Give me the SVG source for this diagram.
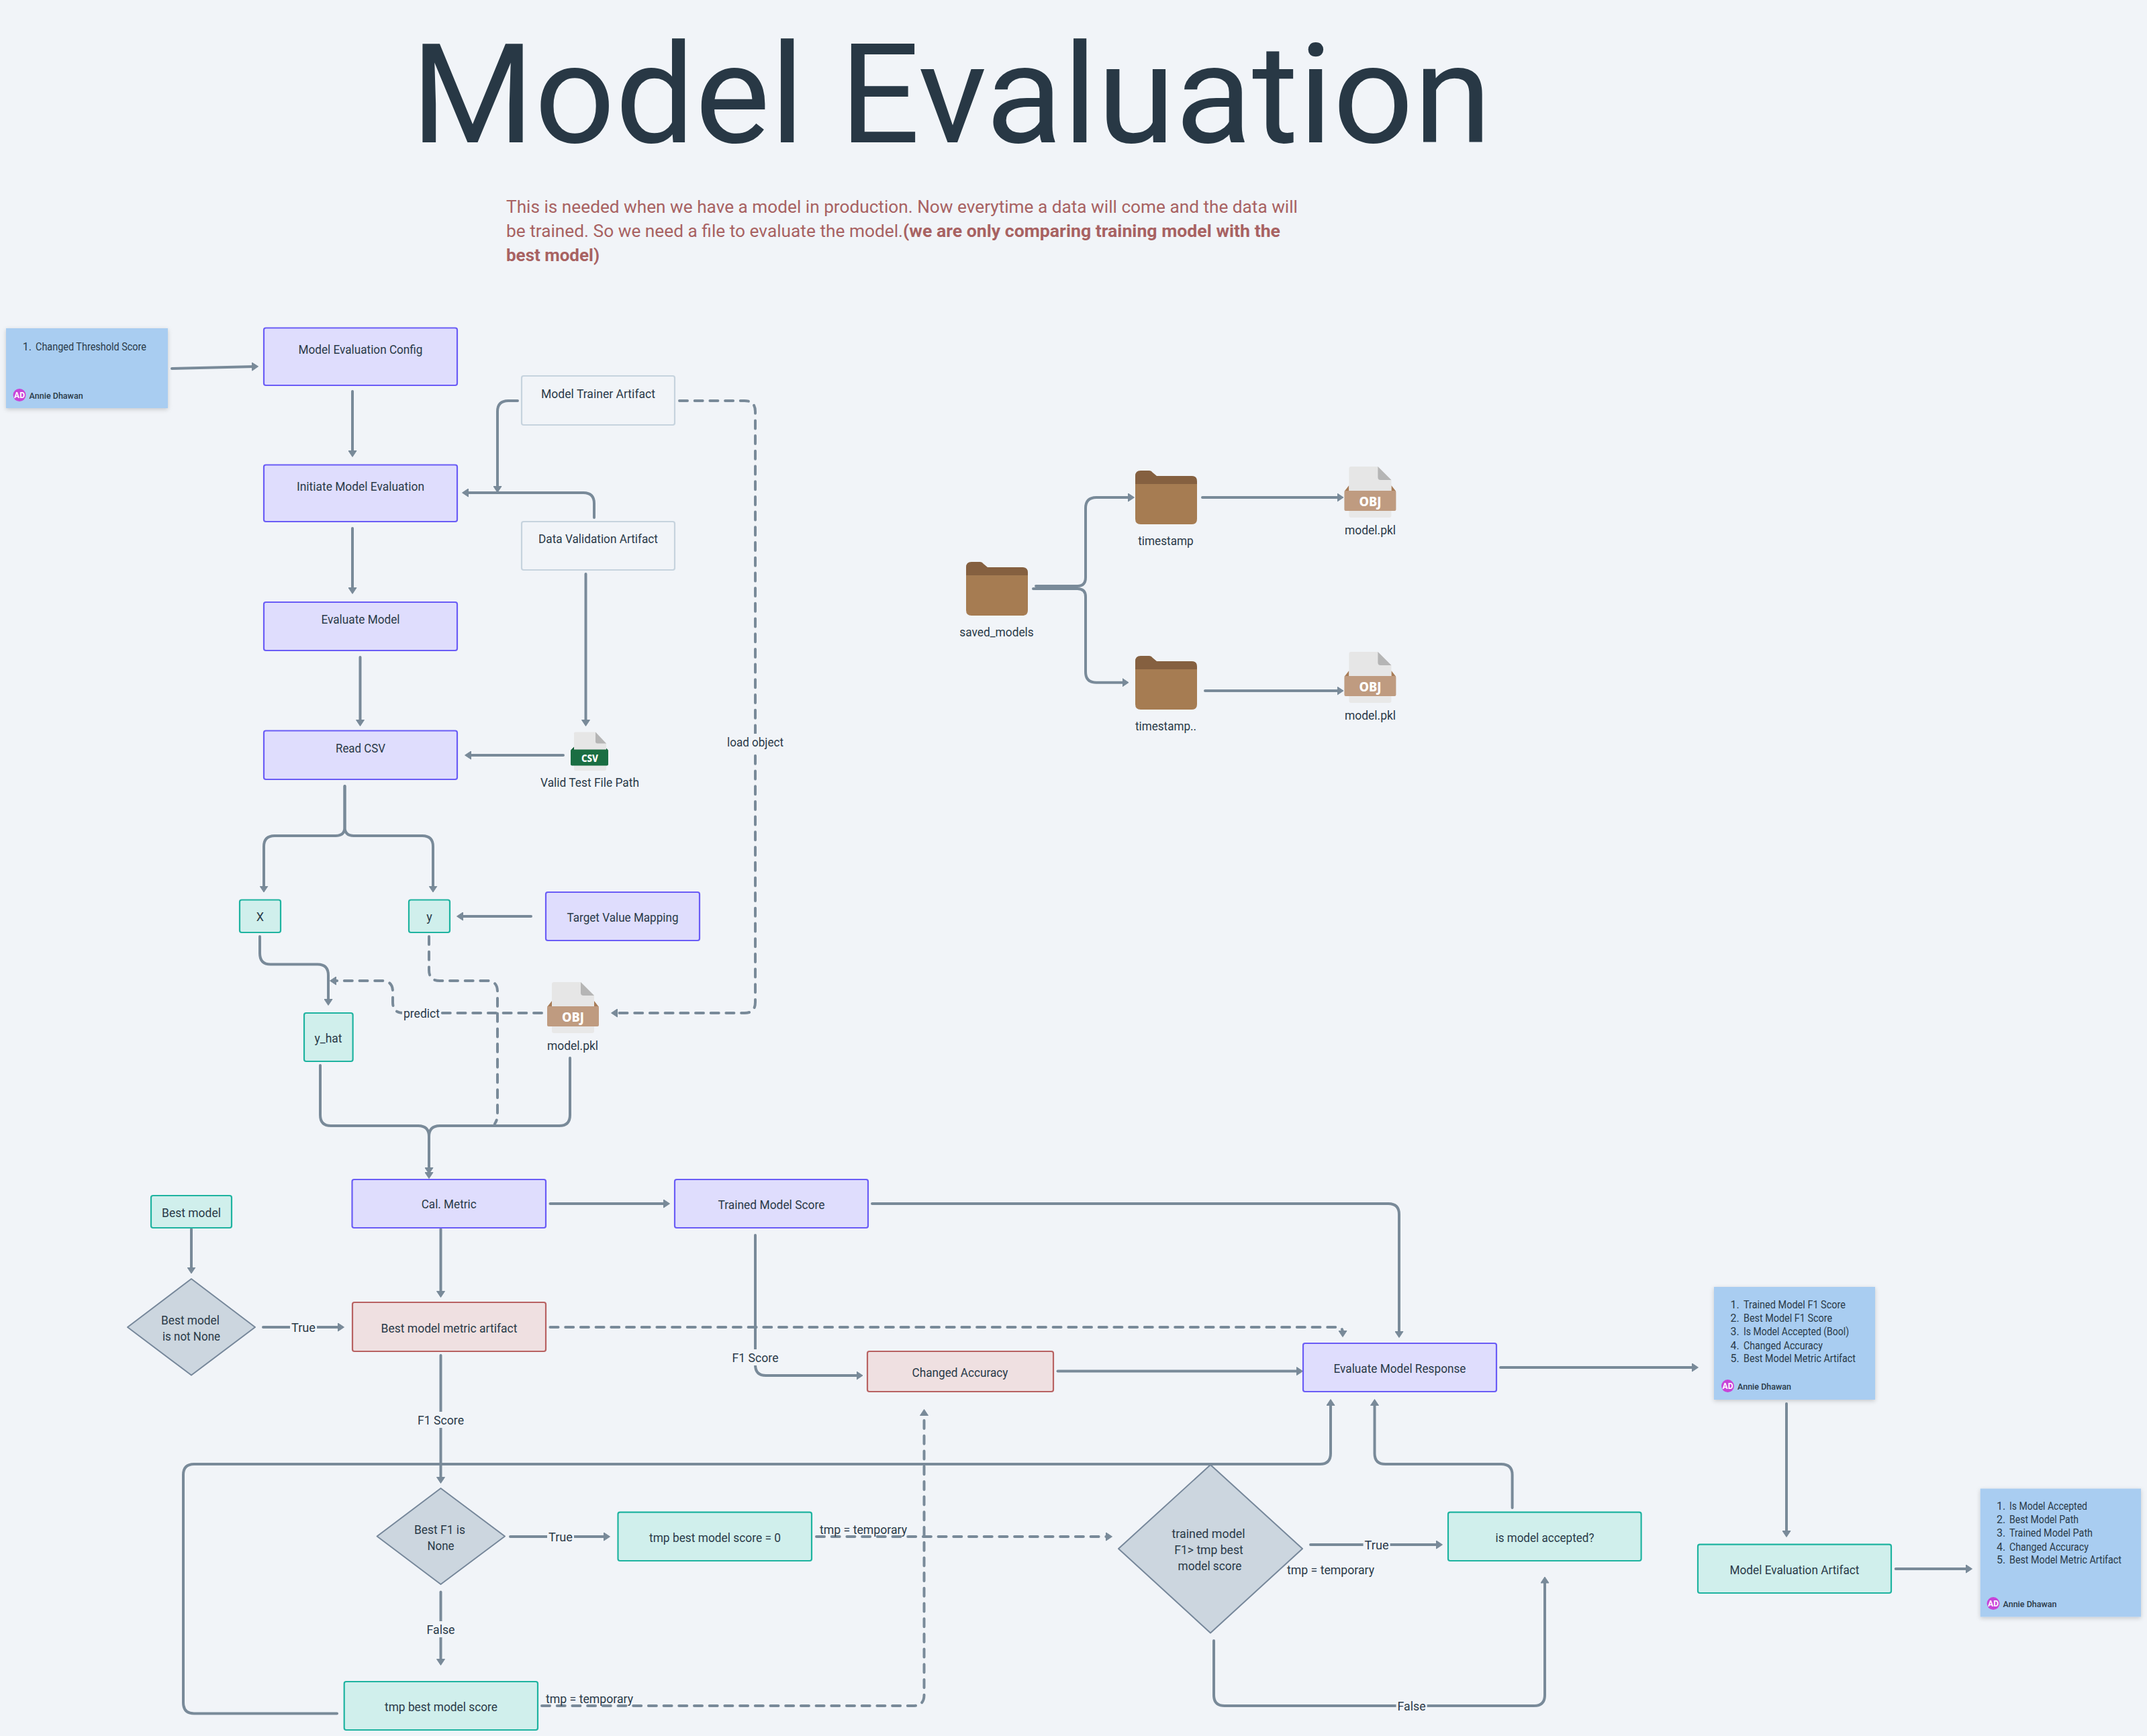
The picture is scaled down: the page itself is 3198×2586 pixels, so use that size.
<svg xmlns="http://www.w3.org/2000/svg" width="3198" height="2586" viewBox="0 0 3198 2586">
<style>
text{font-family:"Roboto","Liberation Sans",sans-serif;fill:#2a3a48;font-size:18px;dominant-baseline:central;text-anchor:middle}
.c path{fill:none;stroke:#798a99;stroke-width:4;stroke-linecap:round;marker-end:url(#ah)}
.c path.n{marker-end:none}
.c path.d{stroke-dasharray:12 10.7}
.lb{fill:#f1f4f8}
.l{font-size:16px;text-anchor:start}
.desc{font-size:26px;fill:#a86262;text-anchor:start;dominant-baseline:alphabetic}
.b{font-weight:700}
.a{fill:#dfddfd;stroke:#6a5cf6;stroke-width:2.2}
.t{fill:#d0efec;stroke:#1eb3a0;stroke-width:2.2}
.r{fill:#efe0e1;stroke:#b86262;stroke-width:2.2}
.g{fill:#f1f4f8;stroke:#c6d3de;stroke-width:2.2}
.dm{fill:#ccd6df;stroke:#76879a;stroke-width:2;stroke-linejoin:round}
.s{fill:#a9cdf1;filter:url(#sh)}
.av{fill:#c844d8}
.avt{font-size:12px;font-weight:700;fill:#fff}
.au{font-size:13.5px;font-weight:500;text-anchor:start}
.ic{font-weight:800;fill:#fff;font-family:"Noto Sans","Roboto",sans-serif}
</style>
<defs>
<marker id="ah" viewBox="0 0 10 13" refX="4" refY="6.5" markerUnits="userSpaceOnUse" markerWidth="10" markerHeight="13" orient="auto"><path d="M0.5 0.5L9.5 6.5L0.5 12.5Z" fill="#798a99" stroke="#798a99" stroke-linejoin="round"/></marker>
<filter id="sh" x="-10%" y="-10%" width="120%" height="120%"><feDropShadow dx="0" dy="2" stdDeviation="3" flood-color="#000" flood-opacity="0.18"/></filter>
<g id="folder"><path d="M0 8Q0 0 8 0H21Q24 0 26 3L32 8H84Q92 8 92 16V20H0Z" fill="#856040"/><path d="M0 20H92V72Q92 80 84 80H8Q0 80 0 72Z" fill="#a67c52"/></g>
<g id="obj"><path d="M0 37L7 28V37ZM77 37L70 28V37Z" fill="#a87c57"/><path d="M7 3Q7 0 10 0H50L70 20V37H7Z" fill="#e6e6e6"/><path d="M50 0L70 20H54Q50 20 50 16Z" fill="#b5b5b5"/><rect x="7" y="60" width="63" height="16" rx="3" fill="#e8e8e8"/><rect x="0" y="36" width="77" height="30" rx="2" fill="#bf9b80"/></g>
<g id="csv"><path d="M0 27L5 22V27ZM56 27L51 22V27Z" fill="#0f5a33"/><path d="M5 2Q5 0 7 0H37L53 17V27H5Z" fill="#e6e6e6"/><path d="M37 0L53 17H40Q37 17 37 14Z" fill="#b5b5b5"/><rect x="5" y="44" width="48" height="13.5" rx="2" fill="#e8e8e8"/><rect x="0" y="26" width="56" height="24" rx="2" fill="#1a6e42"/></g>
</defs>
<rect width="3198" height="2586" fill="#f1f4f8"/>
<g id="title-block">
<text x="612" y="212" style="font-size:206px;text-anchor:start;dominant-baseline:alphabetic;fill:#283845" textLength="1610" lengthAdjust="spacingAndGlyphs">Model Evaluation</text>
<text class="desc" x="754" y="317" textLength="1179" lengthAdjust="spacingAndGlyphs">This is needed when we have a model in production. Now everytime a data will come and the data will</text>
<text class="desc" x="754" y="353" textLength="591" lengthAdjust="spacingAndGlyphs">be trained. So we need a file to evaluate the model.</text>
<text class="desc b" x="1345" y="353" textLength="562" lengthAdjust="spacingAndGlyphs">(we are only comparing training model with the</text>
<text class="desc b" x="754" y="389" textLength="139" lengthAdjust="spacingAndGlyphs">best model)</text>
</g>
<g id="connectors" class="c">
<path d="M256 549L379 546"/>
<path d="M525 583V675"/>
<path d="M525 787V879"/>
<path d="M536.5 979V1076"/>
<path d="M771 597H757Q741 597 741 613V728"/>
<path d="M885 771V750Q885 734 869 734H694"/>
<path d="M872.5 855V1076"/>
<path d="M839 1125H698"/>
<path d="M513.5 1171V1232Q513.5 1245 500 1245H409Q393 1245 393 1261V1323.5"/>
<path d="M513.5 1171V1232Q513.5 1245 527 1245H629Q645 1245 645 1261V1323.5"/>
<path class="d" d="M1012 597H1109Q1125 597 1125 613V1493Q1125 1509 1109 1509H916"/>
<path d="M791 1365H686"/>
<path d="M387 1395V1420Q387 1436.6 403 1436.6H473Q489 1436.6 489 1453V1492"/>
<path class="d n" d="M639 1395V1445Q639 1461 655 1461H725Q741 1461 741 1477V1660Q741 1668 737 1674"/>
<path class="d" d="M807 1509H601Q585 1509 585 1493V1477Q585 1461 569 1461H497"/>
<path d="M477 1587V1661Q477 1677 493 1677H623Q639 1677 639 1693V1750"/>
<path d="M849 1576V1661Q849 1677 833 1677H655Q639 1677 639 1693V1743"/>
<path d="M819.5 1793H992"/>
<path d="M656.5 1831V1927"/>
<path d="M285 1831V1891.5"/>
<path d="M392 1977H507"/>
<path class="d" d="M819.5 1977H1992Q2000 1977 2000 1985V1986"/>
<path d="M1125 1840V2033Q1125 2049 1141 2049H1279.5"/>
<path d="M1299 1793H2068Q2084 1793 2084 1809V1987"/>
<path d="M1575.5 2042.6H1935"/>
<path d="M2235 2037H2524"/>
<path d="M656.5 2019V2204"/>
<path d="M760 2289H903"/>
<path d="M656.5 2371.5V2475"/>
<path d="M502 2552.5H289Q273 2552.5 273 2536V2197Q273 2181 289 2181H1966Q1982 2181 1982 2165V2090"/>
<path class="d" d="M1216 2289H1651"/>
<path class="d" d="M807 2541H1360Q1376.5 2541 1376.5 2525V2105"/>
<path d="M1952 2301H2143"/>
<path d="M1808 2444V2525Q1808 2541 1824 2541H2285Q2301 2541 2301 2525V2354.5"/>
<path d="M2252.6 2246V2197Q2252.6 2181 2236 2181H2063.5Q2047.5 2181 2047.5 2165V2090"/>
<path d="M2661 2091V2284"/>
<path d="M2823.7 2337H2932"/>
<path d="M1543 873H1605Q1617 873 1617 860V757Q1617 741 1633 741H1684"/>
<path d="M1539 877H1605Q1617 877 1617 889V1001Q1617 1016.7 1633 1016.7H1675.5"/>
<path d="M1791 741H1995.5"/>
<path d="M1795 1029H1995.5"/>
<rect class="lb" x="1081" y="1093" width="88" height="24"/><text x="1125" y="1105" textLength="84" lengthAdjust="spacingAndGlyphs">load object</text>
<rect class="lb" x="599" y="1497" width="58" height="24"/><text x="628" y="1509" textLength="54" lengthAdjust="spacingAndGlyphs">predict</text>
<rect class="lb" x="432" y="1965" width="40" height="24"/><text x="452" y="1977" textLength="36" lengthAdjust="spacingAndGlyphs">True</text>
<rect class="lb" x="620" y="2103" width="73" height="24"/><text x="656.5" y="2115" textLength="69" lengthAdjust="spacingAndGlyphs">F1 Score</text>
<rect class="lb" x="1088.5" y="2010" width="73" height="24"/><text x="1125" y="2022" textLength="69" lengthAdjust="spacingAndGlyphs">F1 Score</text>
<rect class="lb" x="815" y="2277" width="40" height="24"/><text x="835" y="2289" textLength="36" lengthAdjust="spacingAndGlyphs">True</text>
<rect class="lb" x="633.5" y="2415" width="46" height="24"/><text x="656.5" y="2427" textLength="42" lengthAdjust="spacingAndGlyphs">False</text>
<rect class="lb" x="2030.6" y="2289" width="40" height="24"/><text x="2050.6" y="2301" textLength="36" lengthAdjust="spacingAndGlyphs">True</text>
<rect class="lb" x="2079.6" y="2529" width="46" height="24"/><text x="2102.6" y="2541" textLength="42" lengthAdjust="spacingAndGlyphs">False</text>
<text style="text-anchor:start" x="1221" y="2278" textLength="130" lengthAdjust="spacingAndGlyphs">tmp = temporary</text>
<text style="text-anchor:start" x="813" y="2530" textLength="130" lengthAdjust="spacingAndGlyphs">tmp = temporary</text>
<text style="text-anchor:start" x="1917" y="2338" textLength="130" lengthAdjust="spacingAndGlyphs">tmp = temporary</text>
</g>
<g id="sticky-threshold"><rect class="s" x="9" y="489" width="241" height="119"/>
<text class="l" x="33.7" y="516">1.</text><text class="l" x="53" y="516" textLength="165" lengthAdjust="spacingAndGlyphs">Changed Threshold Score</text>
<circle class="av" cx="29" cy="588.5" r="9.5"/><text class="avt" x="29" y="588.5">AD</text><text class="au" x="43.6" y="588.5" textLength="80" lengthAdjust="spacingAndGlyphs">Annie Dhawan</text></g>
<g id="model-evaluation-config"><rect class="a" x="393" y="488.5" width="288" height="85.5" rx="3"/><text x="537" y="520" textLength="185" lengthAdjust="spacingAndGlyphs">Model Evaluation Config</text></g>
<g id="initiate-model-evaluation"><rect class="a" x="393" y="692.5" width="288" height="84.5" rx="3"/><text x="537" y="724" textLength="190" lengthAdjust="spacingAndGlyphs">Initiate Model Evaluation</text></g>
<g id="evaluate-model"><rect class="a" x="393" y="897" width="288" height="72" rx="3"/><text x="537" y="922" textLength="117" lengthAdjust="spacingAndGlyphs">Evaluate Model</text></g>
<g id="read-csv"><rect class="a" x="393" y="1088.5" width="288" height="72.5" rx="3"/><text x="537" y="1114" textLength="74" lengthAdjust="spacingAndGlyphs">Read CSV</text></g>
<g id="model-trainer-artifact"><rect class="g" x="777" y="560" width="228" height="73" rx="3"/><text x="891" y="586" textLength="170" lengthAdjust="spacingAndGlyphs">Model Trainer Artifact</text></g>
<g id="data-validation-artifact"><rect class="g" x="777" y="777" width="228" height="72" rx="3"/><text x="891" y="802" textLength="178" lengthAdjust="spacingAndGlyphs">Data Validation Artifact</text></g>
<g id="valid-test-file"><use href="#csv" x="850" y="1090.5"/><text class="ic" x="878.5" y="1128.5" style="font-size:15px" textLength="25" lengthAdjust="spacingAndGlyphs">CSV</text><text x="878.5" y="1165" textLength="147" lengthAdjust="spacingAndGlyphs">Valid Test File Path</text></g>
<g id="x-node"><rect class="t" x="357" y="1340.5" width="61" height="48.5" rx="3"/><text x="387.5" y="1365">X</text></g>
<g id="y-node"><rect class="t" x="609" y="1340.5" width="61" height="48.5" rx="3"/><text x="639.5" y="1365">y</text></g>
<g id="target-value-mapping"><rect class="a" x="813" y="1329" width="229" height="72" rx="3"/><text x="927.5" y="1366" textLength="166" lengthAdjust="spacingAndGlyphs">Target Value Mapping</text></g>
<g id="y-hat"><rect class="t" x="453" y="1509" width="72.6" height="72" rx="3"/><text x="489" y="1546" textLength="41" lengthAdjust="spacingAndGlyphs">y_hat</text></g>
<g id="model-pkl"><use href="#obj" x="815" y="1463"/><text class="ic" x="853.5" y="1514.5" style="font-size:20px" textLength="33" lengthAdjust="spacingAndGlyphs">OBJ</text><text x="853" y="1557.5" textLength="76" lengthAdjust="spacingAndGlyphs">model.pkl</text></g>
<g id="saved-models"><use href="#folder" x="1439" y="837"/><text x="1484.5" y="941.7" textLength="110.6" lengthAdjust="spacingAndGlyphs">saved_models</text></g>
<g id="timestamp-1"><use href="#folder" x="1691" y="701"/><text x="1736.5" y="805.7" textLength="82.6" lengthAdjust="spacingAndGlyphs">timestamp</text></g>
<g id="timestamp-2"><use href="#folder" x="1691" y="977"/><text x="1736.5" y="1081.7" textLength="91" lengthAdjust="spacingAndGlyphs">timestamp..</text></g>
<g id="model-pkl-1"><use href="#obj" x="2002.4" y="695"/><text class="ic" x="2041" y="746.5" style="font-size:20px" textLength="33" lengthAdjust="spacingAndGlyphs">OBJ</text><text x="2041" y="789" textLength="76" lengthAdjust="spacingAndGlyphs">model.pkl</text></g>
<g id="model-pkl-2"><use href="#obj" x="2002.4" y="971"/><text class="ic" x="2041" y="1022.5" style="font-size:20px" textLength="33" lengthAdjust="spacingAndGlyphs">OBJ</text><text x="2041" y="1065.7" textLength="76" lengthAdjust="spacingAndGlyphs">model.pkl</text></g>
<g id="best-model"><rect class="t" x="225" y="1781" width="120" height="48" rx="3"/><text x="285" y="1806" textLength="88" lengthAdjust="spacingAndGlyphs">Best model</text></g>
<g id="cal-metric"><rect class="a" x="524.5" y="1757" width="288.5" height="72" rx="3"/><text x="668.7" y="1793.6" textLength="82" lengthAdjust="spacingAndGlyphs">Cal. Metric</text></g>
<g id="trained-model-score"><rect class="a" x="1005" y="1757" width="288" height="72" rx="3"/><text x="1149" y="1794" textLength="159" lengthAdjust="spacingAndGlyphs">Trained Model Score</text></g>
<g id="best-model-not-none"><path class="dm" d="M285 1905L380 1977L285 2048.5L190 1977Z"/><text x="283.5" y="1966" textLength="87" lengthAdjust="spacingAndGlyphs">Best model</text><text x="285" y="1990" textLength="86" lengthAdjust="spacingAndGlyphs">is not None</text></g>
<g id="best-model-metric-artifact"><rect class="r" x="525" y="1940" width="288" height="73" rx="3"/><text x="669" y="1978" textLength="203" lengthAdjust="spacingAndGlyphs">Best model metric artifact</text></g>
<g id="changed-accuracy"><rect class="r" x="1292" y="2013" width="277" height="60" rx="3"/><text x="1430" y="2044" textLength="143" lengthAdjust="spacingAndGlyphs">Changed Accuracy</text></g>
<g id="evaluate-model-response"><rect class="a" x="1941" y="2001" width="288" height="72" rx="3"/><text x="2085" y="2038" textLength="197" lengthAdjust="spacingAndGlyphs">Evaluate Model Response</text></g>
<g id="sticky-response"><rect class="s" x="2553" y="1917" width="240" height="168"/>
<text class="l" x="2577.5" y="1943.6">1.</text><text class="l" x="2597" y="1943.6" textLength="152" lengthAdjust="spacingAndGlyphs">Trained Model F1 Score</text>
<text class="l" x="2577.5" y="1963.6">2.</text><text class="l" x="2597" y="1963.6" textLength="132" lengthAdjust="spacingAndGlyphs">Best Model F1 Score</text>
<text class="l" x="2577.5" y="1983.6">3.</text><text class="l" x="2597" y="1983.6" textLength="157" lengthAdjust="spacingAndGlyphs">Is Model Accepted (Bool)</text>
<text class="l" x="2577.5" y="2004">4.</text><text class="l" x="2597" y="2004" textLength="118" lengthAdjust="spacingAndGlyphs">Changed Accuracy</text>
<text class="l" x="2577.5" y="2023.6">5.</text><text class="l" x="2597" y="2023.6" textLength="167" lengthAdjust="spacingAndGlyphs">Best Model Metric Artifact</text>
<circle class="av" cx="2573.5" cy="2064.6" r="9.5"/><text class="avt" x="2573.5" y="2064.6">AD</text><text class="au" x="2588" y="2064.6" textLength="80" lengthAdjust="spacingAndGlyphs">Annie Dhawan</text></g>
<g id="best-f1-none"><path class="dm" d="M656.5 2217L752 2288.5L656.5 2360L561.6 2288.5Z"/><text x="655" y="2278" textLength="76" lengthAdjust="spacingAndGlyphs">Best F1 is</text><text x="656.5" y="2302" textLength="40" lengthAdjust="spacingAndGlyphs">None</text></g>
<g id="tmp-score-zero"><rect class="t" x="920.5" y="2252.6" width="288.5" height="72.4" rx="3"/><text x="1065" y="2290" textLength="196" lengthAdjust="spacingAndGlyphs">tmp best model score = 0</text></g>
<g id="tmp-score"><rect class="t" x="512.7" y="2505" width="288.3" height="72" rx="3"/><text x="657" y="2542" textLength="168" lengthAdjust="spacingAndGlyphs">tmp best model score</text></g>
<g id="trained-gt-best"><path class="dm" d="M1803 2182L1940 2307L1803 2432.5L1666 2307Z"/><text x="1800" y="2284" textLength="109" lengthAdjust="spacingAndGlyphs">trained model</text><text x="1800.5" y="2308" textLength="102.5" lengthAdjust="spacingAndGlyphs">F1&gt; tmp best</text><text x="1802" y="2332" textLength="95" lengthAdjust="spacingAndGlyphs">model score</text></g>
<g id="is-model-accepted"><rect class="t" x="2157" y="2252.6" width="287.6" height="72.4" rx="3"/><text x="2301" y="2290" textLength="147" lengthAdjust="spacingAndGlyphs">is model accepted?</text></g>
<g id="model-evaluation-artifact"><rect class="t" x="2529" y="2300.7" width="288" height="72.3" rx="3"/><text x="2673" y="2338" textLength="193" lengthAdjust="spacingAndGlyphs">Model Evaluation Artifact</text></g>
<g id="sticky-artifact"><rect class="s" x="2949.7" y="2217.5" width="239.3" height="191"/>
<text class="l" x="2974" y="2243.6">1.</text><text class="l" x="2993" y="2243.6" textLength="116" lengthAdjust="spacingAndGlyphs">Is Model Accepted</text>
<text class="l" x="2974" y="2263.6">2.</text><text class="l" x="2993" y="2263.6" textLength="103" lengthAdjust="spacingAndGlyphs">Best Model Path</text>
<text class="l" x="2974" y="2283.6">3.</text><text class="l" x="2993" y="2283.6" textLength="124" lengthAdjust="spacingAndGlyphs">Trained Model Path</text>
<text class="l" x="2974" y="2304">4.</text><text class="l" x="2993" y="2304" textLength="118" lengthAdjust="spacingAndGlyphs">Changed Accuracy</text>
<text class="l" x="2974" y="2323.6">5.</text><text class="l" x="2993" y="2323.6" textLength="167" lengthAdjust="spacingAndGlyphs">Best Model Metric Artifact</text>
<circle class="av" cx="2969" cy="2388.6" r="9.5"/><text class="avt" x="2969" y="2388.6">AD</text><text class="au" x="2983.5" y="2388.6" textLength="80" lengthAdjust="spacingAndGlyphs">Annie Dhawan</text></g>
</svg>
